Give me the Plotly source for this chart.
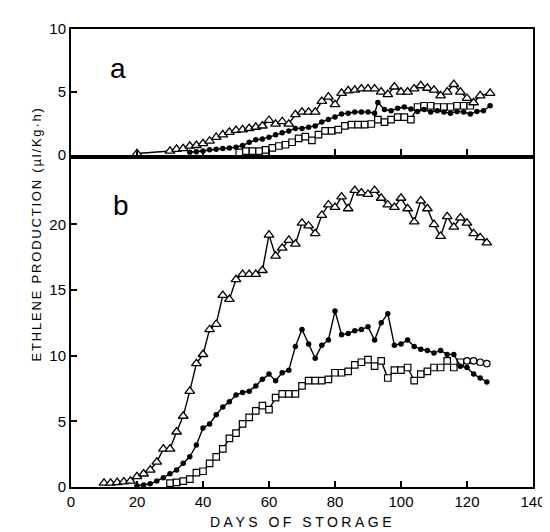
import plotly.graph_objects as go

# ---------------- panel a ----------------
a_tri_days = [20, 30, 32, 34, 36, 38, 40, 42, 44, 46, 48, 50, 52, 54, 56, 58, 60, 62, 64, 66,
              68, 70, 72, 74, 76, 78, 80, 82, 84, 86, 88, 90, 92, 94, 96, 98, 100, 102, 104,
              106, 108, 110, 112, 114, 116, 118, 120, 122, 124, 127]
a_tri_vals = [0.1, 0.3, 0.45, 0.5, 0.7, 0.75, 0.9, 1.1, 1.4, 1.6, 1.8, 1.95, 2.0, 2.1, 2.2, 2.3,
              2.75, 2.45, 2.65, 2.45, 3.2, 3.4, 3.4, 3.4, 4.25, 4.6, 4.0, 4.9, 5.1, 5.15, 5.25,
              5.25, 5.25, 5.0, 4.8, 5.4, 5.0, 5.0, 5.25, 5.5, 5.3, 5.15, 4.7, 5.0, 5.6, 5.0,
              4.5, 4.15, 4.7, 4.9]

a_dot_days = [36, 38, 40, 42, 44, 46, 48, 50, 52, 54, 56, 58, 60, 62, 64, 66, 68, 70, 72, 74,
              76, 78, 80, 82, 84, 86, 88, 90, 92, 93, 95, 97, 99, 101, 103, 105, 107, 109, 111,
              113, 115, 117, 119, 121, 123, 125, 127]
a_dot_vals = [0.2, 0.25, 0.3, 0.4, 0.45, 0.5, 0.55, 0.6, 0.75, 1.0, 1.2, 1.25, 1.4, 1.6, 1.75,
              1.9, 2.1, 2.1, 2.2, 2.3, 2.6, 2.8, 3.0, 3.25, 3.3, 3.4, 3.4, 3.4, 3.3, 4.15, 3.6,
              3.5, 3.7, 3.8, 3.65, 3.45, 3.6, 3.4, 3.5, 3.4, 3.3, 3.45, 3.4, 3.25, 3.45, 3.5, 3.9]

a_sq_days = [51, 53, 55, 57, 59, 61, 63, 65, 67, 69, 71, 73, 75, 77, 79, 81, 83, 85, 87, 89,
             91, 93, 95, 97, 99, 101, 103, 105, 107, 109, 111, 113, 115, 117, 119, 121]
a_sq_vals = [0.2, 0.3, 0.3, 0.3, 0.4, 0.55, 0.7, 0.8, 1.0, 1.3, 1.45, 1.15, 1.6, 1.9, 1.9, 2.0,
             2.3, 2.4, 2.4, 2.4, 2.45, 2.8, 2.6, 2.8, 3.0, 3.0, 2.8, 3.8, 3.9, 3.9, 3.8, 3.8,
             3.8, 3.9, 3.9, 3.9]

# ---------------- panel b ----------------
b_tri_days = list(range(10, 128, 2))
b_tri_vals = [0.3, 0.3, 0.35, 0.4, 0.45, 0.8, 1.0, 1.3, 1.9, 2.9, 2.9, 4.2, 5.4, 7.3, 9.4,
              10.1, 12.0, 12.4, 14.6, 14.3, 15.8, 16.2, 16.2, 16.2, 16.5, 19.2, 17.6, 18.2,
              18.8, 18.5, 20.1, 19.9, 19.3, 20.7, 21.5, 21.3, 22.1, 21.2, 22.6, 22.4, 22.3,
              22.6, 22.0, 21.5, 21.3, 22.0, 21.2, 20.2, 21.8, 21.2, 20.0, 19.1, 20.6, 19.8,
              20.5, 20.1, 19.3, 19.0, 18.6]

b_dot_days = list(range(20, 128, 2))
b_dot_vals = [0.1, 0.15, 0.25, 0.45, 0.7, 1.0, 1.3, 1.8, 2.3, 3.2, 4.5, 4.8, 5.5, 6.1, 6.5,
              7.0, 7.2, 7.3, 7.7, 8.2, 8.6, 8.1, 8.7, 8.9, 10.7, 12.0, 10.9, 9.8, 10.8, 11.2,
              13.4, 11.6, 11.7, 11.9, 12.0, 12.2, 11.2, 12.5, 13.2, 10.8, 10.9, 11.2, 10.7,
              10.5, 10.4, 10.2, 10.4, 10.1, 10.1, 9.2, 9.1, 8.6, 8.3, 8.0]

b_sq_days = list(range(30, 128, 2))
b_sq_vals = [0.3, 0.35, 0.45, 0.6, 1.1, 1.2, 1.8, 2.3, 2.9, 3.7, 4.1, 4.8, 5.3, 5.8, 6.2, 5.9,
             6.8, 7.1, 7.1, 7.1, 7.7, 8.1, 8.1, 8.1, 8.2, 8.7, 8.7, 8.8, 9.3, 9.5, 9.7, 9.2,
             9.6, 8.3, 8.9, 8.9, 9.1, 8.1, 8.6, 8.8, 9.1, 9.1, 9.6, 9.1, 9.5, 9.6, 9.6, 9.5, 9.4]

x_ticks = [0, 20, 40, 60, 80, 100, 120, 140]
ya_ticks = [0, 5, 10]
yb_ticks = [0, 5, 10, 15, 20]

FONT = "Liberation Sans"
LINE = dict(color="black", width=1.4)


def tri(x, y, xa, ya):
    return go.Scatter(x=x, y=y, xaxis=xa, yaxis=ya, mode="lines+markers", line=LINE,
                      marker=dict(symbol="triangle-up", size=8.5, color="white",
                                  line=dict(color="black", width=1.3)),
                      showlegend=False, cliponaxis=False)


def dot(x, y, xa, ya):
    return go.Scatter(x=x, y=y, xaxis=xa, yaxis=ya, mode="lines+markers", line=LINE,
                      marker=dict(symbol="circle", size=5.5, color="black"),
                      showlegend=False, cliponaxis=False)


def sq(x, y, xa, ya, n_circ=0):
    syms = ["square"] * (len(x) - n_circ) + ["circle"] * n_circ
    return go.Scatter(x=x, y=y, xaxis=xa, yaxis=ya, mode="lines+markers", line=LINE,
                      marker=dict(symbol=syms, size=6.5, color="white",
                                  line=dict(color="black", width=1.2)),
                      showlegend=False, cliponaxis=False)


fig = go.Figure()
fig.add_trace(sq(a_sq_days, a_sq_vals, "x2", "y2"))
fig.add_trace(dot(a_dot_days, a_dot_vals, "x2", "y2"))
fig.add_trace(tri(a_tri_days, a_tri_vals, "x2", "y2"))
fig.add_trace(sq(b_sq_days, b_sq_vals, "x", "y", n_circ=4))
fig.add_trace(dot(b_dot_days, b_dot_vals, "x", "y"))
fig.add_trace(tri(b_tri_days, b_tri_vals, "x", "y"))

axis_common = dict(showline=True, linewidth=2, linecolor="black", mirror=True,
                   ticks="inside", ticklen=6, tickwidth=1.5, tickcolor="black",
                   showgrid=False, zeroline=False,
                   tickfont=dict(family=FONT, size=15, color="black"))

fig.update_layout(
    width=550, height=532,
    margin=dict(l=63, r=25, t=13, b=53),
    paper_bgcolor="white", plot_bgcolor="white",
    xaxis=dict(domain=[0, 1], range=[0, 140], tickvals=x_ticks, anchor="y", **axis_common),
    yaxis=dict(domain=[0, 0.7167], range=[0, 25], tickvals=yb_ticks, anchor="x", **axis_common),
    xaxis2=dict(domain=[0, 1], range=[0, 140], tickvals=x_ticks, anchor="y2",
                showticklabels=False, **axis_common),
    yaxis2=dict(domain=[0.7253, 1], range=[0, 10], tickvals=ya_ticks, anchor="x2", **axis_common),
    annotations=[
        dict(text="a", xref="paper", yref="paper", x=(110 - 63) / 462, y=(479 - 53) / 466,
             xanchor="center", yanchor="middle",
             showarrow=False, font=dict(family=FONT, size=28, color="black")),
        dict(text="b", xref="paper", yref="paper", x=(113 - 63) / 462, y=(479 - 193) / 466,
             xanchor="center", yanchor="middle",
             showarrow=False, font=dict(family=FONT, size=28, color="black")),
        dict(text='<span style="letter-spacing:3.5px">DAYS OF STORAGE</span>',
             xref="paper", yref="paper", x=0.5, y=-(515 - 479) / 466,
             xanchor="center", yanchor="middle",
             showarrow=False, font=dict(family=FONT, size=14, color="black")),
        dict(text='<span style="letter-spacing:1.8px">ETHLENE PRODUCTION (µl/Kg·h)</span>',
             xref="paper", yref="paper", x=-(63 - 28) / 462, y=(479 - 222) / 466,
             xanchor="center", yanchor="middle",
             textangle=-90, showarrow=False,
             font=dict(family=FONT, size=13, color="black")),
    ],
)

fig.write_html("out.html")
